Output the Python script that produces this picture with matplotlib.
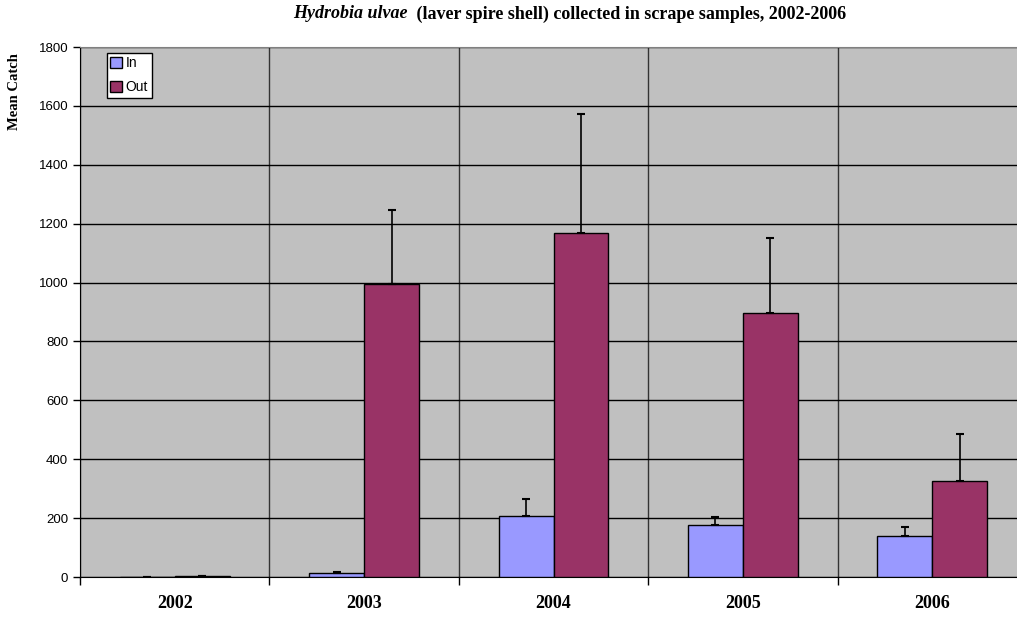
import matplotlib.pyplot as plt
import numpy as np
from matplotlib.ticker import MultipleLocator, FixedLocator

years = ["2002", "2003", "2004", "2005", "2006"]
in_mean = [0.5, 12, 207, 175, 140]
in_err = [0.5, 5, 58, 29, 30]
out_mean = [3, 995, 1170, 896, 325]
out_err = [1, 252, 404, 254, 161]

W, H = 1017, 619
fig = plt.figure(figsize=(W / 100, H / 100), dpi=100)
ax = fig.add_axes([80 / W, 1 - 577 / H, (1027 - 80) / W, (577 - 47) / H])
ax.set_facecolor("#C0C0C0")

x = np.arange(len(years))
bw = 0.29
ax.bar(x - bw / 2, in_mean, bw, color="#9999FF", edgecolor="black", linewidth=1, label="In", zorder=3)
ax.bar(x + bw / 2, out_mean, bw, color="#993366", edgecolor="black", linewidth=1, label="Out", zorder=3)
ax.errorbar(x - bw / 2, in_mean, yerr=[np.zeros(len(x)), in_err], fmt="none",
            ecolor="black", elinewidth=1.2, capsize=3, capthick=1.5, zorder=4)
ax.errorbar(x + bw / 2, out_mean, yerr=[np.zeros(len(x)), out_err], fmt="none",
            ecolor="black", elinewidth=1.2, capsize=3, capthick=1.5, zorder=4)

ax.set_xlim(-0.5, len(years) - 0.5)
ax.set_ylim(0, 1800)
ax.yaxis.set_major_locator(MultipleLocator(200))
ax.grid(axis="y", color="black", linewidth=1, zorder=1)
ax.set_axisbelow(True)

# category boundaries: tick marks + vertical gridlines
ax.set_xticks(x)
ax.set_xticklabels(years, fontfamily="Liberation Serif", fontweight="bold", fontsize=13)
ax.xaxis.set_minor_locator(FixedLocator(np.arange(-0.5, len(years), 1)))
ax.tick_params(axis="x", which="major", length=0, pad=13)
ax.tick_params(axis="x", which="minor", length=6, width=1, direction="out")
ax.grid(axis="x", which="minor", color="#333333", linewidth=1, zorder=1)
ax.tick_params(axis="y", length=5, width=1, direction="out", labelsize=9.5)
for lab in ax.get_yticklabels():
    lab.set_fontfamily("Liberation Sans")

ax.spines["top"].set_color("#808080")
ax.spines["left"].set_color("black")
ax.spines["bottom"].set_color("black")

fig.text(15 / W, 1 - 92 / H, "Mean Catch", rotation=90, ha="center", va="center",
         fontfamily="Liberation Serif", fontweight="bold", fontsize=10.5)

leg = ax.legend(loc="upper left", bbox_to_anchor=(107 / W, 1 - 53 / H),
                bbox_transform=fig.transFigure, fancybox=False, framealpha=1,
                edgecolor="black", prop={"family": "Liberation Sans", "size": 10},
                handlelength=0.8, handleheight=0.8, handletextpad=0.3,
                borderpad=0.25, labelspacing=0.7, borderaxespad=0)
leg.get_frame().set_linewidth(1)

# title: italic species name followed by bold rest
r = fig.canvas.get_renderer()
t1 = fig.text(0, 0, "Hydrobia ulvae ", fontfamily="Liberation Serif", fontweight="bold",
              fontstyle="italic", fontsize=13)
t2 = fig.text(0, 0, " (laver spire shell) collected in scrape samples, 2002-2006",
              fontfamily="Liberation Serif", fontweight="bold", fontsize=13)
w1 = t1.get_window_extent(r).width
w2 = t2.get_window_extent(r).width
cx = 570
start = cx - (w1 + w2) / 2
ty = 1 - 14 / H
t1.set_position((start / W, ty))
t1.set_va("center")
t2.set_position(((start + w1) / W, ty))
t2.set_va("center")

fig.savefig("out.png", dpi=100)
